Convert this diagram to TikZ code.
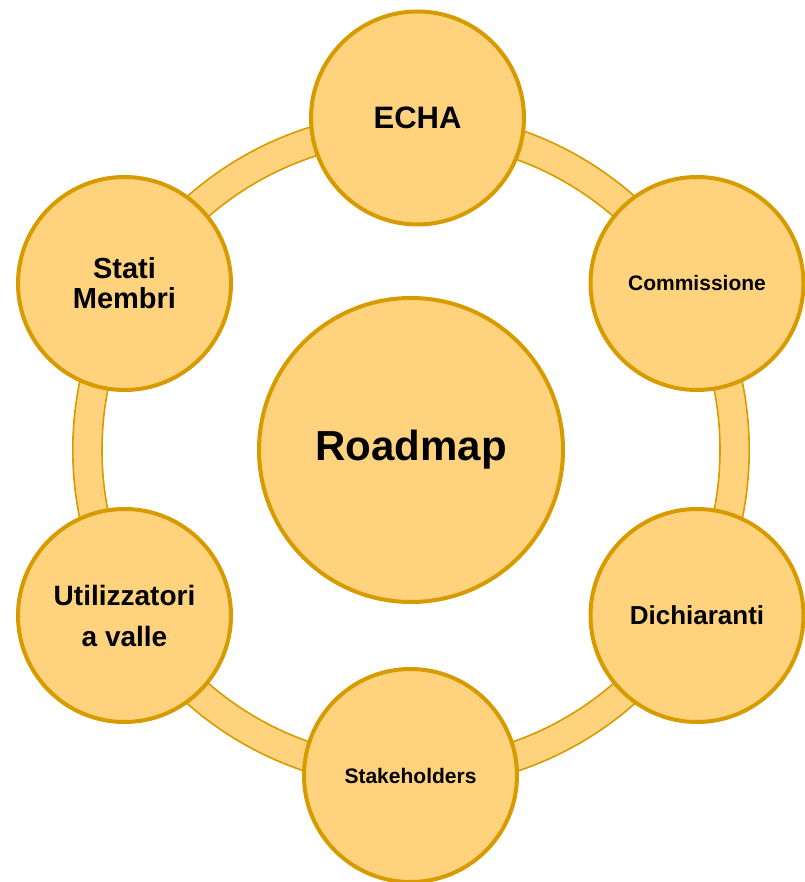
\documentclass[tikz,border=0pt]{standalone}
\usepackage{fontspec}
\setmainfont{Liberation Sans}
\definecolor{petal}{HTML}{FFD37D}
\definecolor{rim}{HTML}{D79B00}
\begin{document}
\begin{tikzpicture}[x=1pt,y=1pt,
  bubble/.style={circle, draw=rim, fill=petal, line width=4pt,
    minimum size=213pt, inner sep=0pt, align=center, font=\bfseries},
  hub/.style={circle, draw=rim, fill=petal, line width=4pt,
    minimum size=304pt, inner sep=0pt, font=\bfseries\fontsize{42}{48}\selectfont},
  band/.style={draw=rim, fill=petal, line width=1.6pt, even odd rule}]
  \useasboundingbox (0,0) rectangle (804,882);

  % ring joining the outer bubbles
  \coordinate (core) at (411,432);
  \path[band] (core) circle[radius=338.2pt] (core) circle[radius=309pt];

  % central hub
  \node[hub] (roadmap) at (core) {Roadmap};

  % outer bubbles
  \node[bubble, font=\bfseries\fontsize{31}{36}\selectfont] (echa) at (417.5,764) {ECHA};
  \node[bubble, font=\bfseries\fontsize{21}{25}\selectfont] (comm) at (697,598.5) {Commissione};
  \node[bubble, font=\bfseries\fontsize{26}{30}\selectfont] (dich) at (697,266.5) {Dichiaranti};
  \node[bubble, font=\bfseries\fontsize{21}{25}\selectfont] (stake) at (410.5,106.5) {Stakeholders};
  \node[bubble, font=\bfseries\fontsize{28}{41}\selectfont] (util) at (124.5,266.5) {Utilizzatori\\a valle};
  \node[bubble, font=\bfseries\fontsize{29}{30}\selectfont] (stati) at (124.5,598.5) {Stati\\Membri};
\end{tikzpicture}
\end{document}
